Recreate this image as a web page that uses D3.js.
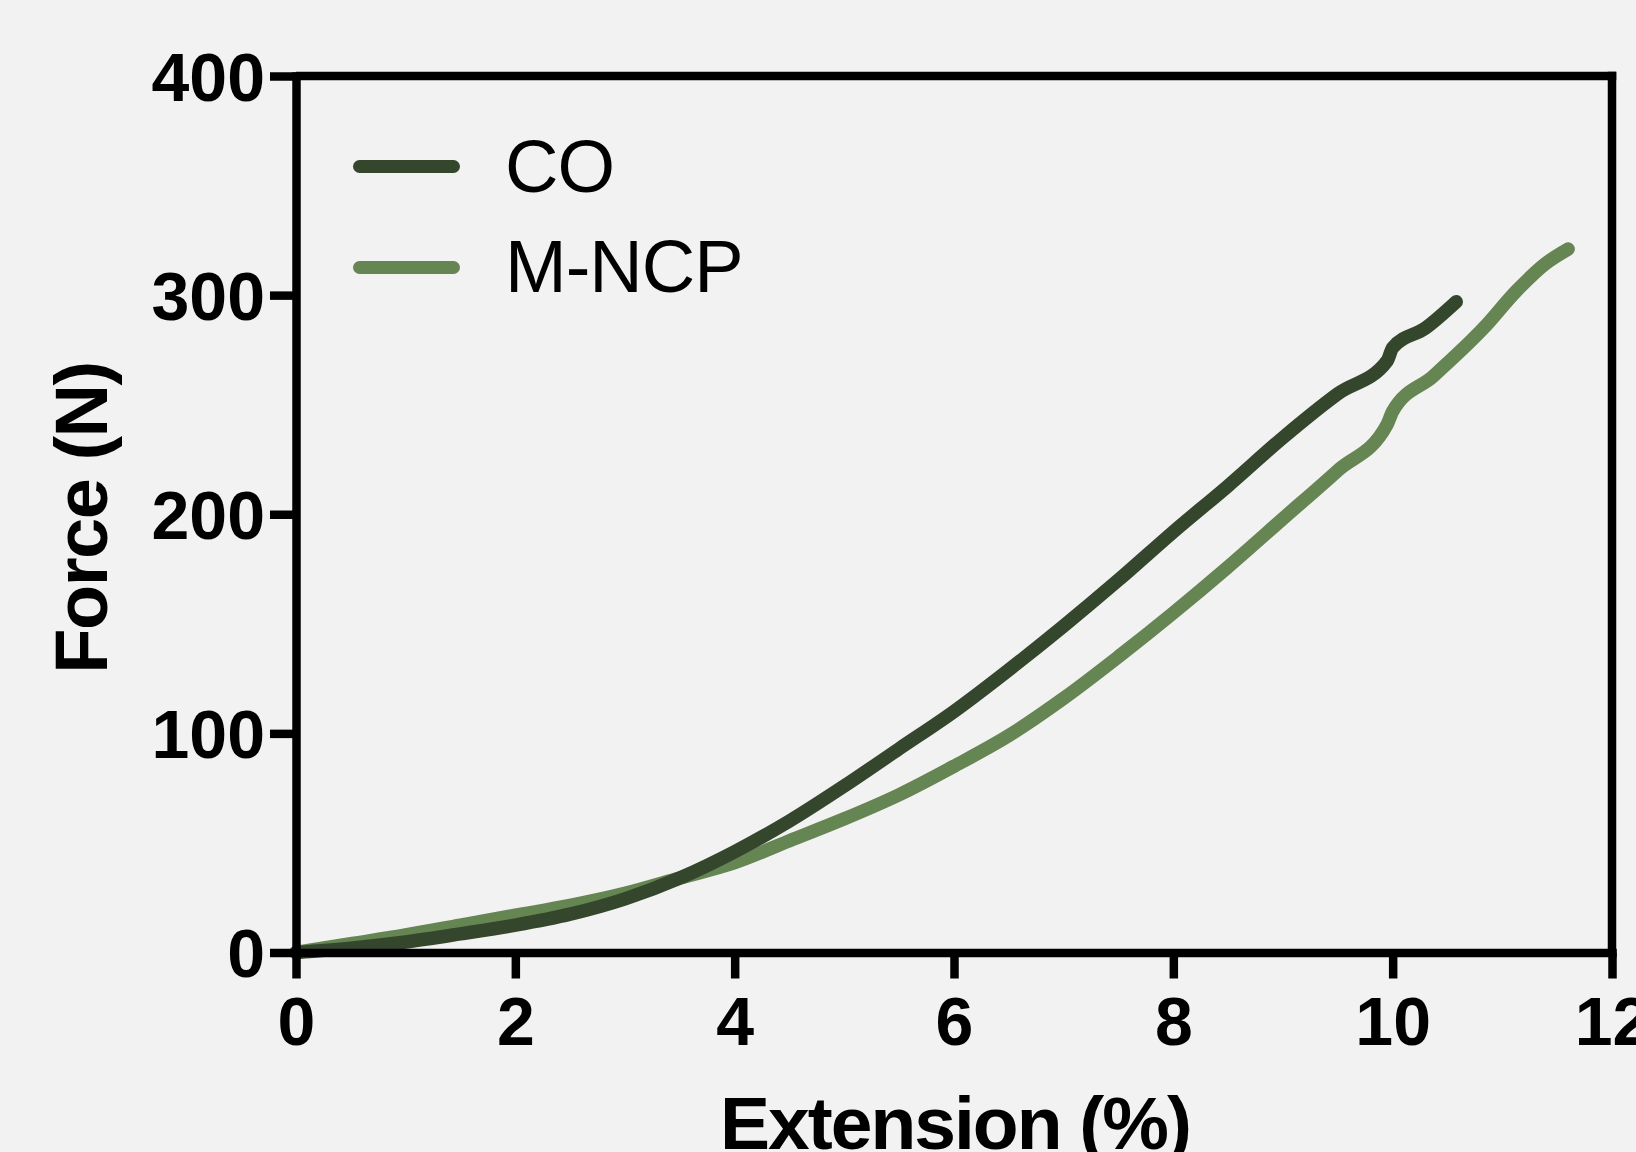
<!DOCTYPE html>
<html>
<head>
<meta charset="utf-8">
<script src="https://cdn.jsdelivr.net/npm/d3@7"></script>
<style>
  html, body { margin: 0; padding: 0; background: #f2f2f2; }
  svg { display: block; }
  text { font-family: "Liberation Sans", Arial, Helvetica, sans-serif; }
</style>
</head>
<body>
<svg id="chart" width="1636" height="1152"></svg>
<script>
// ---- Data ----
const seriesNames = ["CO", "M-NCP"];
const seriesColors = ["#34462c", "#658552"];

const coExtension = [0, 0.5, 1.0, 1.5, 2.0, 2.5, 3.0, 3.5, 4.0, 4.5, 5.0, 5.5, 6.0, 6.5, 7.0, 7.5, 8.0, 8.5, 9.0, 9.5, 9.95, 10.0, 10.3, 10.58];
const coForce     = [0, 2, 4.8, 8.5, 12.5, 17.5, 24.5, 34, 46, 60, 76, 93, 110, 129, 149, 170, 192, 213, 235, 255, 270, 276, 285, 297];

const mncpExtension = [0, 0.5, 1.0, 1.5, 2.0, 2.5, 3.0, 3.5, 4.0, 4.5, 5.0, 5.5, 6.0, 6.5, 7.0, 7.5, 8.0, 8.5, 9.0, 9.5, 9.95, 10.0, 10.37, 10.83, 11.13, 11.4, 11.6];
const mncpForce     = [0, 4, 8, 12.5, 17, 21.5, 27, 34, 41, 51, 61, 72, 85, 99, 116, 135, 155, 176, 198, 220, 241, 247, 263, 285, 302, 314.6, 321];

const xTicks = [0, 2, 4, 6, 8, 10, 12];
const yTicks = [0, 100, 200, 300, 400];
const xLabel = "Extension (%)";
const yLabel = "Force (N)";

// ---- Layout ----
const svg = d3.select("#chart");
const X0 = 296, X1 = 1612, Y0 = 952.5, Y1 = 76;
const AXW = 8.5, TICK = 26;

const x = d3.scaleLinear().domain([0, 12]).range([X0, X1]);
const y = d3.scaleLinear().domain([0, 400]).range([Y0, Y1]);

svg.append("rect").attr("width", 1636).attr("height", 1152).attr("fill", "#f2f2f2");

// Curves
const line = d3.line().x(d => x(d[0])).y(d => y(d[1])).curve(d3.curveMonotoneX);
const coData = coExtension.map((v, i) => [v, coForce[i]]);
const mncpData = mncpExtension.map((v, i) => [v, mncpForce[i]]);

[[mncpData, seriesColors[1]], [coData, seriesColors[0]]].forEach(([data, color]) => {
  svg.append("path")
    .datum(data)
    .attr("d", line)
    .attr("fill", "none")
    .attr("stroke", color)
    .attr("stroke-width", 13.5)
    .attr("stroke-linecap", "round")
    .attr("stroke-linejoin", "round");
});

// Frame: top and right borders
svg.append("line").attr("x1", X0).attr("x2", X1 + AXW / 2).attr("y1", Y1).attr("y2", Y1)
  .attr("stroke", "#000").attr("stroke-width", AXW);
svg.append("line").attr("x1", X1).attr("x2", X1).attr("y1", Y1 - AXW / 2).attr("y2", Y0)
  .attr("stroke", "#000").attr("stroke-width", AXW);

// Axes
const yAxis = svg.append("g").attr("transform", `translate(${X0},0)`)
  .call(d3.axisLeft(y).tickValues(yTicks).tickSize(TICK).tickSizeOuter(0).tickPadding(5).tickFormat(d3.format("d")));
const xAxis = svg.append("g").attr("transform", `translate(0,${Y0})`)
  .call(d3.axisBottom(x).tickValues(xTicks).tickSize(TICK).tickSizeOuter(0).tickPadding(18.5).tickFormat(d3.format("d")));

[yAxis, xAxis].forEach(g => {
  g.select(".domain").attr("stroke", "#000").attr("stroke-width", AXW).attr("stroke-linecap", "square");
  g.selectAll(".tick line").attr("stroke", "#000").attr("stroke-width", AXW);
  g.selectAll(".tick text")
    .attr("fill", "#000")
    .style("font-family", '"Liberation Sans", Arial, Helvetica, sans-serif')
    .style("font-size", "68px")
    .style("font-weight", "bold");
});
yAxis.selectAll(".tick text").attr("dy", "0.36em");
xAxis.selectAll(".tick text").attr("dy", "0.71em");

// Axis titles
svg.append("text")
  .attr("x", 955).attr("y", 1149)
  .attr("text-anchor", "middle")
  .style("font-size", "75px").style("font-weight", "bold")
  .style("letter-spacing", "-2px")
  .attr("fill", "#000")
  .text(xLabel);

svg.append("text")
  .attr("transform", "translate(107,518) rotate(-90)")
  .attr("text-anchor", "middle")
  .style("font-size", "74px").style("font-weight", "bold")
  .style("letter-spacing", "-1.5px")
  .attr("fill", "#000")
  .text(yLabel);

// Legend
const legendY = [166.5, 267.5];
const legendBase = [192, 292];
seriesNames.forEach((name, i) => {
  svg.append("line")
    .attr("x1", 359.5).attr("x2", 453.5)
    .attr("y1", legendY[i]).attr("y2", legendY[i])
    .attr("stroke", seriesColors[i]).attr("stroke-width", 13)
    .attr("stroke-linecap", "round");
  svg.append("text")
    .attr("x", 505).attr("y", legendBase[i])
    .style("font-size", "74px")
    .style("letter-spacing", "-1px")
    .attr("fill", "#000")
    .text(name);
});
</script>
</body>
</html>
